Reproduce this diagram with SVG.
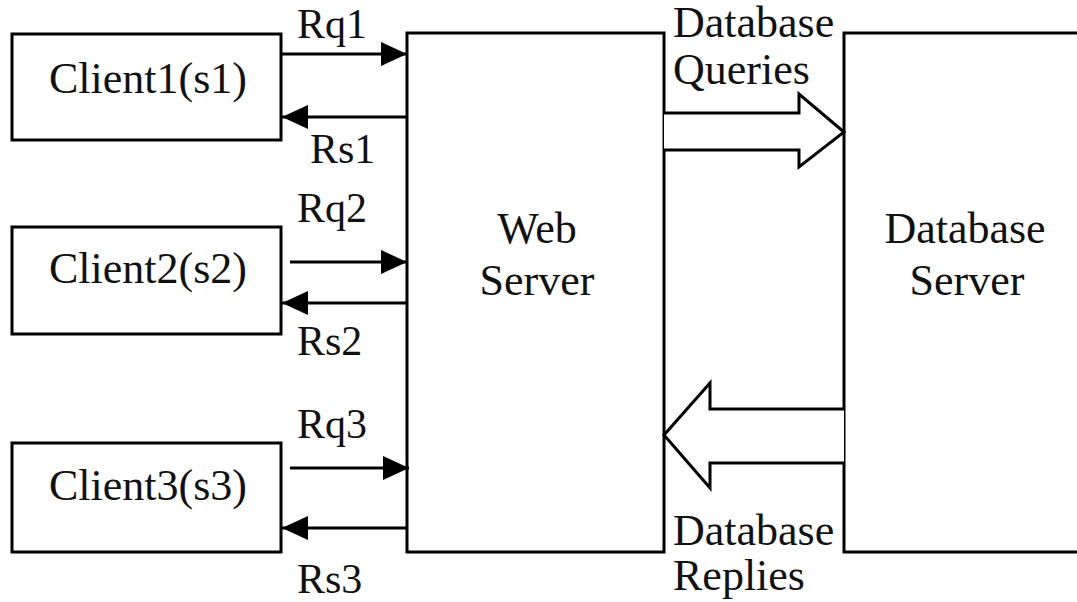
<svg xmlns="http://www.w3.org/2000/svg" width="1077" height="602" viewBox="0 0 1077 602">
  <style>
    .box { fill: #fff; stroke: #000; stroke-width: 3; }
    .line { fill: none; stroke: #000; stroke-width: 3; }
    .fat { fill: #fff; stroke: #000; stroke-width: 3; stroke-linejoin: miter; }
    text { font-family: 'Liberation Serif', 'Times New Roman', serif; font-size: 44px; fill: #111; }
    .lbl { font-size: 42px; }
    .mid { text-anchor: middle; }
  </style>
  <defs>
    <marker id="head" viewBox="0 0 26 24" refX="26" refY="12" markerWidth="26" markerHeight="24" markerUnits="userSpaceOnUse" orient="auto">
      <path d="M0,0 L26,12 L0,24 Z" fill="#000"/>
    </marker>
  </defs>
  <rect width="1077" height="602" fill="#fff"/>

  <g id="client1">
    <rect class="box" x="12" y="34" width="269" height="106"/>
    <text class="mid" x="148" y="93">Client1(s1)</text>
  </g>
  <g id="client2">
    <rect class="box" x="12" y="227" width="269" height="107"/>
    <text class="mid" x="148" y="283">Client2(s2)</text>
  </g>
  <g id="client3">
    <rect class="box" x="12" y="443" width="269" height="109"/>
    <text class="mid" x="148" y="500">Client3(s3)</text>
  </g>
  <g id="web-server">
    <rect class="box" x="407" y="33" width="257" height="519"/>
    <text class="mid" x="537" y="243">Web</text>
    <text class="mid" x="537" y="295">Server</text>
  </g>
  <g id="database-server">
    <rect class="box" x="844" y="33" width="240" height="519"/>
    <text class="mid" x="965" y="243">Database</text>
    <text class="mid" x="967" y="295">Server</text>
  </g>

  <g id="connectors">
    <!-- request / response arrows between clients and the web server -->
    <line class="line" x1="281" y1="54" x2="407" y2="54" marker-end="url(#head)"/>
    <line class="line" x1="407" y1="117" x2="282" y2="117" marker-end="url(#head)"/>
    <line class="line" x1="290" y1="262" x2="407" y2="262" marker-end="url(#head)"/>
    <line class="line" x1="407" y1="303" x2="282" y2="303" marker-end="url(#head)"/>
    <line class="line" x1="290" y1="468" x2="409" y2="468" marker-end="url(#head)"/>
    <line class="line" x1="407" y1="528" x2="282" y2="528" marker-end="url(#head)"/>
    <!-- block arrow: queries to the database -->
    <path class="fat" d="M664,113 L799,113 L799,94 L844,132 L799,167 L799,150 L664,150"/>
    <!-- block arrow: replies back to the web server -->
    <path class="fat" d="M844,409 L710,409 L710,383 L664,435 L710,488 L710,463 L844,463"/>

    <text class="lbl" x="297" y="38">Rq1</text>
    <text class="lbl" x="310" y="163">Rs1</text>
    <text class="lbl" x="297" y="222">Rq2</text>
    <text class="lbl" x="297" y="355">Rs2</text>
    <text class="lbl" x="297" y="438">Rq3</text>
    <text class="lbl" x="297" y="593">Rs3</text>
    <text x="673" y="37">Database</text>
    <text x="673" y="84">Queries</text>
    <text x="673" y="545">Database</text>
    <text x="673" y="590">Replies</text>
  </g>
</svg>
